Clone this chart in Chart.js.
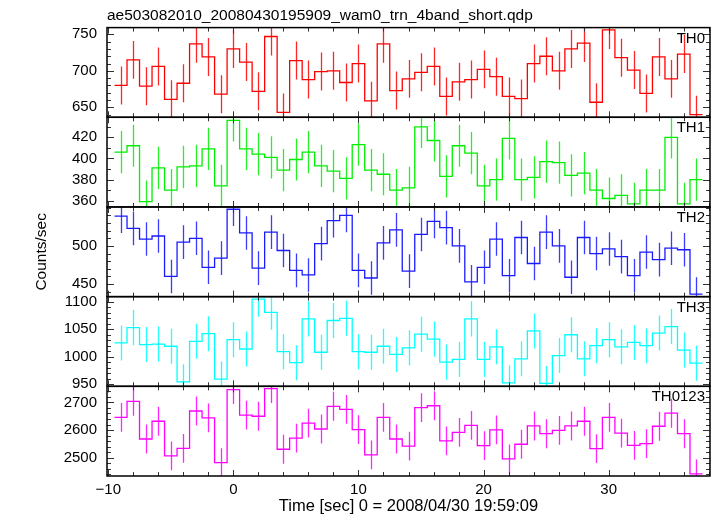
<!DOCTYPE html>
<html>
<head>
<meta charset="utf-8">
<script src="https://cdn.jsdelivr.net/npm/chart.js@4/dist/chart.umd.min.js"></script>
<style>
  html, body { margin: 0; padding: 0; background: #fff; }
</style>
</head>
<body>
<canvas id="lc" width="717" height="516"></canvas>
<script>
// bin centres [sec], 1 s bins
const times = [-9, -8, -7, -6, -5, -4, -3, -2, -1, 0, 1, 2, 3, 4, 5, 6, 7, 8, 9, 10, 11, 12, 13, 14, 15, 16,
  17, 18, 19, 20, 21, 22, 23, 24, 25, 26, 27, 28, 29, 30, 31, 32, 33, 34, 35, 36, 37];

const th0 = [680, 715, 679, 706, 661, 683, 737, 719, 668, 730, 712, 672, 747, 643, 714, 688, 699, 700, 684, 710,
  659, 737, 673, 689, 698, 706, 665, 685, 688, 702, 692, 665, 662, 710, 720, 700, 730, 738, 657, 756, 718, 701,
  669, 719, 689, 723, 640];
const th1 = [406, 412, 359, 391, 370, 392, 393, 409, 374, 436, 409, 404, 401, 389, 399, 406, 393, 388, 381, 413,
  389, 385, 370, 372, 430, 417, 383, 412, 405, 374, 380, 419, 380, 382, 397, 396, 384, 386, 370, 362, 365, 357,
  370, 370, 420, 357, 380];
const th2 = [539, 523, 509, 513, 460, 505, 510, 472, 484, 548, 517, 471, 518, 494, 468, 462, 503, 533, 540, 468,
  458, 504, 521, 467, 515, 532, 524, 500, 453, 472, 509, 461, 511, 477, 518, 500, 459, 511, 490, 496, 486, 461,
  492, 482, 497, 495, 437];
const th3 = [1025, 1053, 1022, 1023, 1019, 954, 1028, 1042, 959, 1031, 1014, 1105, 1081, 1009, 989, 1069, 1008,
  1066, 1070, 1009, 1008, 1019, 1004, 1016, 1041, 1032, 990, 995, 1069, 995, 1018, 952, 996, 1047, 951, 1002,
  1040, 996, 1020, 1031, 1018, 1026, 1020, 1043, 1055, 1012, 988];
const th0123 = [2646, 2704, 2568, 2632, 2507, 2534, 2669, 2644, 2483, 2746, 2654, 2650, 2750, 2531, 2571, 2625,
  2604, 2686, 2675, 2602, 2511, 2646, 2568, 2542, 2681, 2688, 2561, 2592, 2617, 2544, 2601, 2496, 2549, 2615,
  2587, 2599, 2615, 2632, 2533, 2646, 2589, 2545, 2551, 2614, 2661, 2587, 2442];

const bands = ["TH0", "TH1", "TH2", "TH3", "TH0123"];
const rates = [th0, th1, th2, th3, th0123];
const errs = [26, 20, 22, 32, 52];
const colors = ["#ff0000", "#00ee00", "#1a1aff", "#00ffff", "#ff00ff"];

const yMin = [636.4, 354, 433.6, 945.8, 2434.5];
const yMax = [759.2, 439, 551, 1109.6, 2758];
const yTicks = [[650, 700, 750], [360, 380, 400, 420], [450, 500], [950, 1000, 1050, 1100], [2500, 2600, 2700]];
const yMinorStep = [10, 10, 10, 10, 20];
const xTicks = [-10, 0, 10, 20, 30];
const xMinorStep = 2;
const xMin = -10.1;
const xMax = 38.1;

const FONT = "Liberation Sans, Arial, Helvetica, sans-serif";
Chart.defaults.font.family = FONT;
Chart.defaults.font.size = 15;
Chart.defaults.color = "#000";

function histPoints(vals) {
  const pts = times.map((t, k) => ({ x: t - 0.5, y: vals[k] }));
  pts.push({ x: times[times.length - 1] + 0.5, y: vals[vals.length - 1] });
  return pts;
}

// error bars, panel frames, inward ticks and band names
const qdpPanels = {
  id: "qdpPanels",
  afterDatasetsDraw(chart) {
    const { ctx, chartArea: a } = chart;
    const xs = chart.scales.x;
    rates.forEach((vals, i) => {
      const ys = chart.scales["y" + i];
      ctx.save();
      ctx.beginPath();
      ctx.rect(a.left, ys.top, a.right - a.left, ys.bottom - ys.top);
      ctx.clip();
      ctx.strokeStyle = colors[i];
      ctx.globalAlpha = 0.85;
      ctx.lineWidth = 1.3;
      ctx.beginPath();
      times.forEach((t, k) => {
        const px = Math.round(xs.getPixelForValue(t)) + 0.5;
        ctx.moveTo(px, ys.getPixelForValue(vals[k] - errs[i]));
        ctx.lineTo(px, ys.getPixelForValue(vals[k] + errs[i]));
      });
      ctx.stroke();
      ctx.restore();
    });
  },
  afterDraw(chart) {
    const { ctx, chartArea: a } = chart;
    const xs = chart.scales.x;
    ctx.save();
    rates.forEach((vals, i) => {
      const ys = chart.scales["y" + i];
      ctx.strokeStyle = "#333";
      ctx.lineWidth = 1;
      ctx.beginPath();
      for (let v = Math.ceil(yMin[i] / yMinorStep[i]) * yMinorStep[i]; v <= yMax[i]; v += yMinorStep[i]) {
        const len = yTicks[i].includes(v) ? 7 : 4;
        const py = Math.round(ys.getPixelForValue(v)) + 0.5;
        ctx.moveTo(a.left, py); ctx.lineTo(a.left + len, py);
        ctx.moveTo(a.right, py); ctx.lineTo(a.right - len, py);
      }
      for (let v = xTicks[0]; v <= xMax; v += xMinorStep) {
        const len = v % 10 === 0 ? 6 : 4;
        const px = Math.round(xs.getPixelForValue(v)) + 0.5;
        ctx.moveTo(px, ys.top); ctx.lineTo(px, ys.top + len);
        ctx.moveTo(px, ys.bottom); ctx.lineTo(px, ys.bottom - len);
      }
      ctx.stroke();
      ctx.strokeStyle = "#000";
      ctx.lineWidth = 1.5;
      ctx.strokeRect(a.left, ys.top, a.right - a.left, ys.bottom - ys.top);

      ctx.fillStyle = "#000";
      ctx.font = "15px " + FONT;
      ctx.textAlign = "right";
      ctx.textBaseline = "alphabetic";
      ctx.fillText(bands[i], a.right - 5, ys.top + 15);
    });
    ctx.restore();
  }
};

const datasets = rates.map((vals, i) => ({
  label: bands[i],
  data: histPoints(vals),
  yAxisID: "y" + i,
  borderColor: colors[i],
  borderWidth: 1.3,
  pointRadius: 0,
  stepped: "before",
  fill: false
}));

const scales = {
  x: {
    type: "linear",
    min: xMin,
    max: xMax,
    afterBuildTicks: (s) => { s.ticks = xTicks.map((v) => ({ value: v })); },
    afterFit: (s) => { s.height = 40; },
    ticks: {
      autoSkip: false,
      maxRotation: 0,
      padding: 5,
      callback: (v) => String(v).replace("-", "\u2212")
    },
    grid: { display: false, drawTicks: false },
    border: { display: false },
    title: {
      display: true,
      text: "Time [sec] 0 = 2008/04/30 19:59:09",
      font: { size: 16.5 },
      padding: { top: 0, bottom: 0 }
    }
  }
};
// listed bottom panel first: stacked left axes are placed from the bottom up
for (let i = bands.length - 1; i >= 0; i--) {
  scales["y" + i] = {
    type: "linear",
    position: "left",
    stack: "panels",
    stackWeight: 1,
    min: yMin[i],
    max: yMax[i],
    afterBuildTicks: (s) => { s.ticks = yTicks[i].map((v) => ({ value: v })); },
    afterFit: (s) => { s.width = 107; },
    ticks: { autoSkip: false, padding: 10, callback: (v) => String(v) },
    grid: { display: false, drawTicks: false },
    border: { display: false },
    title: i === 2
      ? { display: true, text: "Counts/sec", font: { size: 15.5 }, padding: { top: 32, bottom: 0 } }
      : { display: false }
  };
}

new Chart(document.getElementById("lc"), {
  type: "line",
  data: { datasets },
  options: {
    responsive: false,
    animation: false,
    devicePixelRatio: 1,
    layout: { padding: { top: 0, right: 7, bottom: 0, left: 0 } },
    scales,
    plugins: {
      legend: { display: false },
      tooltip: { enabled: false },
      title: {
        display: true,
        text: "ae503082010_20080430195909_wam0_trn_4band_short.qdp",
        align: "start",
        fullSize: false,
        font: { size: 15.5, weight: "normal" },
        color: "#000",
        padding: { top: 6, bottom: 3 }
      }
    }
  },
  plugins: [qdpPanels]
});
</script>
</body>
</html>
